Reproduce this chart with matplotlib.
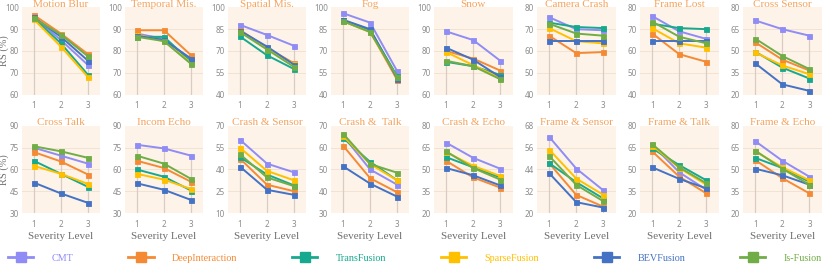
import matplotlib
matplotlib.use("Agg")
import matplotlib.pyplot as plt
from matplotlib.lines import Line2D
import numpy as np

levels = [1, 2, 3]
series_names = ["CMT", "DeepInteraction", "TransFusion", "SparseFusion", "BEVFusion", "Is-Fusion"]
series_colors = ["#8f8cf5", "#f58a35", "#17a98f", "#ffc000", "#4472c4", "#70ad47"]

titles = ["Motion Blur", "Temporal Mis.", "Spatial Mis.", "Fog", "Snow", "Camera Crash",
          "Frame Lost", "Cross Sensor", "Cross Talk", "Incom Echo", "Crash & Sensor",
          "Crash &  Talk", "Crash & Echo", "Frame & Sensor", "Frame & Talk", "Frame & Echo"]

# values per subplot, order: CMT, DeepInteraction, TransFusion, SparseFusion, BEVFusion, Is-Fusion
motion_blur = [[95.5, 85.0, 73.5], [96.5, 88.0, 78.5], [95.0, 83.5, 69.0],
               [94.5, 82.0, 68.0], [95.5, 86.5, 75.5], [95.0, 87.5, 77.5]]
temporal_mis = [[88.0, 85.5, 76.0], [89.5, 89.5, 78.0], [86.5, 86.5, 75.0],
                [87.5, 84.5, 74.5], [87.0, 85.0, 76.5], [86.5, 84.5, 74.0]]
spatial_mis = [[88.0, 81.0, 73.5], [84.5, 72.0, 61.5], [80.0, 67.0, 57.5],
               [84.0, 71.5, 61.0], [84.0, 73.0, 60.5], [83.0, 71.0, 59.0]]
fog = [[96.0, 89.5, 56.0], [90.5, 83.5, 50.0], [91.0, 84.5, 52.5],
       [90.5, 83.0, 51.5], [91.5, 85.0, 51.0], [90.5, 83.0, 52.0]]
snow = [[89.0, 85.0, 75.5], [80.0, 76.5, 71.0], [75.0, 73.0, 69.0],
        [79.5, 73.5, 67.5], [81.5, 76.0, 68.0], [75.5, 73.0, 67.0]]
camera_crash = [[75.5, 70.0, 69.5], [67.0, 59.0, 59.5], [73.0, 71.0, 70.5],
                [70.5, 64.5, 63.5], [64.5, 64.5, 64.5], [72.5, 68.0, 67.0]]
frame_lost = [[76.0, 69.0, 65.5], [68.0, 58.5, 55.0], [72.5, 70.5, 70.0],
              [70.5, 63.5, 61.5], [64.5, 64.5, 64.5], [73.5, 66.5, 63.5]]
cross_sensor = [[71.0, 65.0, 60.5], [56.0, 44.0, 36.5], [49.5, 38.5, 31.0],
                [49.0, 40.0, 34.0], [41.5, 27.0, 22.5], [58.5, 46.5, 37.5]]
cross_talk = [[75.0, 69.5, 64.0], [72.0, 65.5, 56.5], [66.0, 57.0, 48.0],
              [62.5, 57.0, 50.0], [51.0, 43.5, 37.0], [76.0, 72.5, 68.0]]
incom_echo = [[77.0, 74.5, 69.5], [66.0, 61.0, 51.5], [60.0, 55.0, 45.5],
              [57.0, 53.0, 46.5], [50.5, 46.0, 39.0], [69.5, 64.0, 53.5]]
crash_sensor = [[60.5, 44.0, 38.0], [47.5, 29.5, 25.0], [48.5, 36.5, 29.0],
                [55.0, 39.0, 32.5], [42.0, 26.0, 22.5], [50.5, 34.5, 28.5]]
crash_talk = [[65.5, 50.0, 43.0], [61.0, 46.0, 39.5], [64.5, 53.5, 45.0],
              [65.5, 52.5, 45.0], [51.5, 43.5, 37.5], [66.5, 52.5, 48.5]]
crash_echo = [[68.5, 58.0, 50.5], [56.0, 44.5, 37.5], [58.5, 51.5, 44.5],
              [62.0, 52.5, 45.5], [51.0, 46.0, 39.0], [62.5, 51.0, 43.0]]
frame_sensor = [[62.0, 44.5, 32.5], [47.5, 30.0, 23.5], [47.5, 37.0, 28.0],
                [55.0, 39.0, 30.0], [42.0, 26.0, 23.0], [51.5, 35.5, 26.5]]
frame_talk = [[67.0, 48.0, 36.0], [62.5, 45.0, 33.5], [64.5, 53.0, 42.5],
              [66.5, 51.0, 39.5], [51.5, 43.5, 37.0], [67.5, 51.5, 40.5]]
frame_echo = [[69.5, 56.0, 45.0], [56.5, 44.0, 33.5], [58.0, 51.0, 41.5],
              [62.5, 51.5, 42.5], [50.5, 46.0, 39.5], [63.0, 50.5, 39.5]]

all_data = [motion_blur, temporal_mis, spatial_mis, fog, snow, camera_crash, frame_lost,
            cross_sensor, cross_talk, incom_echo, crash_sensor, crash_talk, crash_echo,
            frame_sensor, frame_talk, frame_echo]

y_ranges = [(60, 100, 10), (60, 100, 10), (40, 100, 15), (40, 100, 15), (60, 100, 10),
            (40, 80, 10), (40, 80, 10), (20, 80, 15), (30, 90, 15), (30, 90, 15),
            (10, 70, 15), (30, 70, 10), (20, 80, 15), (20, 68, 12), (20, 80, 15), (20, 80, 15)]

serif = ["Liberation Serif", "DejaVu Serif"]
title_color = "#f5a35c"
tick_color = "#8c8c8c"
bg = "#fdf3e8"

fig, axes = plt.subplots(2, 8, figsize=(8.3, 2.64), dpi=100)
fig.subplots_adjust(left=0.026, right=0.99, top=0.972, bottom=0.193, wspace=0.31, hspace=0.36)

for i, ax in enumerate(axes.flat):
    data = all_data[i]
    lo, hi, st = y_ranges[i]
    ax.set_facecolor(bg)
    ax.set_xlim(0.55, 3.45)
    ax.set_ylim(lo, hi)
    yt = np.arange(lo, hi + 0.01, st)
    ax.set_yticks(yt)
    ax.set_xticks(levels)
    ax.set_yticklabels([f"{int(v)}" for v in yt])
    for v in yt[1:-1]:
        ax.axhline(v, color="#f1e2d2", lw=0.7, zorder=0)
    arr = np.array(data)
    for j, xv in enumerate(levels):
        ax.vlines(xv, lo, arr[:, j].max(), color="#d9ccc2", lw=0.9, zorder=1)
    for k, vals in enumerate(data):
        ax.plot(levels, vals, color=series_colors[k], lw=1.4, marker="s", markersize=3.6,
                markeredgewidth=0.6, markeredgecolor=series_colors[k], zorder=3 + k * 0.1)
    for s in ax.spines.values():
        s.set_visible(False)
    ax.tick_params(axis="both", length=0, labelsize=5.8, colors=tick_color, pad=2)
    ax.tick_params(axis="x", pad=5)
    for lab in ax.get_xticklabels() + ax.get_yticklabels():
        lab.set_family(["Noto Sans", "DejaVu Sans"])
    ax.text(0.5, 0.985, titles[i], transform=ax.transAxes, ha="center", va="bottom",
            fontsize=8, color=title_color, family=serif, zorder=10, clip_on=False)
    if i >= 8:
        ax.set_xlabel("Severity Level", fontsize=8, color="#6e6e6e", family=serif, labelpad=2)
    if i % 8 == 0:
        ax.set_ylabel("RS (%)", fontsize=7.5, color="#6e6e6e", family=serif)
        ax.yaxis.set_label_coords(-0.165, 0.5)

handles = [Line2D([0], [0], color=c, lw=2, marker="s", markersize=7,
                  markeredgecolor=c) for c in series_colors]
leg = fig.legend(handles, series_names, loc="lower center", bbox_to_anchor=(0.5, -0.03),
                 ncol=6, frameon=False, handlelength=2.5, handletextpad=1.8,
                 columnspacing=5.4, prop={"family": serif, "size": 7.3})
for t, c in zip(leg.get_texts(), series_colors):
    t.set_color(c)

fig.savefig("out.png", dpi=100)
